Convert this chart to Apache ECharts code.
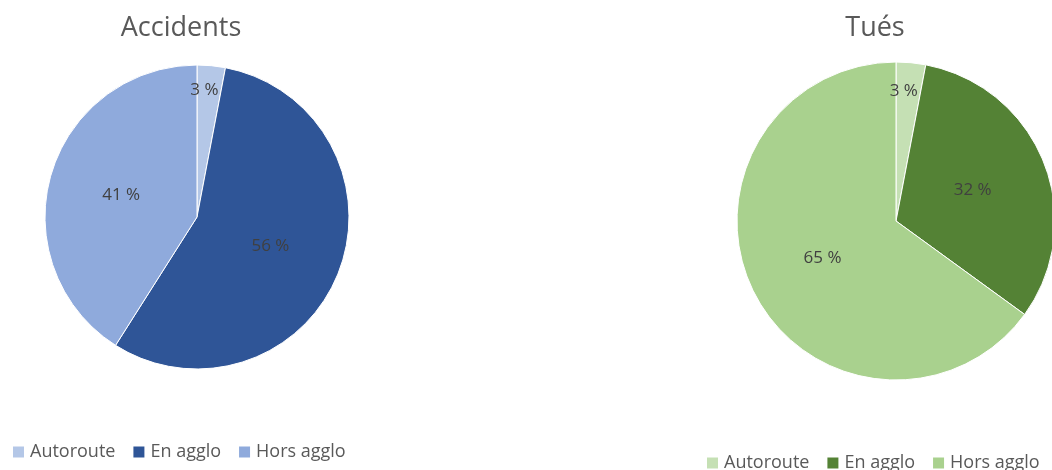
<!DOCTYPE html>
<html><head><meta charset="utf-8">
<script src="https://cdn.jsdelivr.net/npm/echarts@6/dist/echarts.min.js"></script>
<style>html,body{margin:0;padding:0;background:#fff}#c{width:1052px;height:470px}</style>
</head><body><div id="c"></div>
<script>
const categories = ['Autoroute', 'En agglo', 'Hors agglo'];
const accidents = [3, 56, 41];
const tues = [3, 32, 65];
const accColors = ['#B4C7E7', '#2F5597', '#8FAADC'];
const tueColors = ['#C5E0B4', '#548235', '#A9D18E'];

const font = '"Open Sans", "Noto Sans", sans-serif';
function mk(vals, suffix) {
  return vals.map((v, i) => ({ name: categories[i] + suffix, value: v }));
}
function labelLayout(params) {
  if (params.dataIndex === 0) return { dy: -48 };
}
const chart = echarts.init(document.getElementById('c'));
const titleStyle = { fontFamily: font, fontSize: 27, fill: '#595959', textAlign: 'center', textVerticalAlign: 'middle' };
chart.setOption({
  animation: false,
  graphic: [
    { type: 'text', x: 181, y: 28, style: Object.assign({ text: 'Accidents' }, titleStyle) },
    { type: 'text', x: 875, y: 28, style: Object.assign({ text: 'Tués' }, titleStyle) }
  ],
  legend: [
    { data: mk(accidents, '|a').map(d => d.name), left: 6, top: 438, itemWidth: 13, itemHeight: 13, itemGap: 16,
      icon: 'rect', formatter: n => n.split('|')[0],
      textStyle: { fontFamily: font, fontSize: 18, color: '#595959' } },
    { data: mk(tues, '|t').map(d => d.name), left: 700, top: 449, itemWidth: 13, itemHeight: 13, itemGap: 16,
      icon: 'rect', formatter: n => n.split('|')[0],
      textStyle: { fontFamily: font, fontSize: 18, color: '#595959' } }
  ],
  series: [
    { type: 'pie', center: [197, 217], radius: 152, startAngle: 90, clockwise: true,
      data: mk(accidents, '|a'), color: accColors,
      itemStyle: { borderColor: '#fff', borderWidth: 1 },
      label: { position: 'inside', formatter: p => p.value + ' %',
        fontFamily: font, fontSize: 17, color: '#404040' },
      labelLine: { show: false }, labelLayout: labelLayout, emphasis: { disabled: true } },
    { type: 'pie', center: [896, 221], radius: 159, startAngle: 90, clockwise: true,
      data: mk(tues, '|t'), color: tueColors,
      itemStyle: { borderColor: '#fff', borderWidth: 1 },
      label: { position: 'inside', formatter: p => p.value + ' %',
        fontFamily: font, fontSize: 17, color: '#404040' },
      labelLine: { show: false }, labelLayout: labelLayout, emphasis: { disabled: true } }
  ]
});
</script></body></html>
